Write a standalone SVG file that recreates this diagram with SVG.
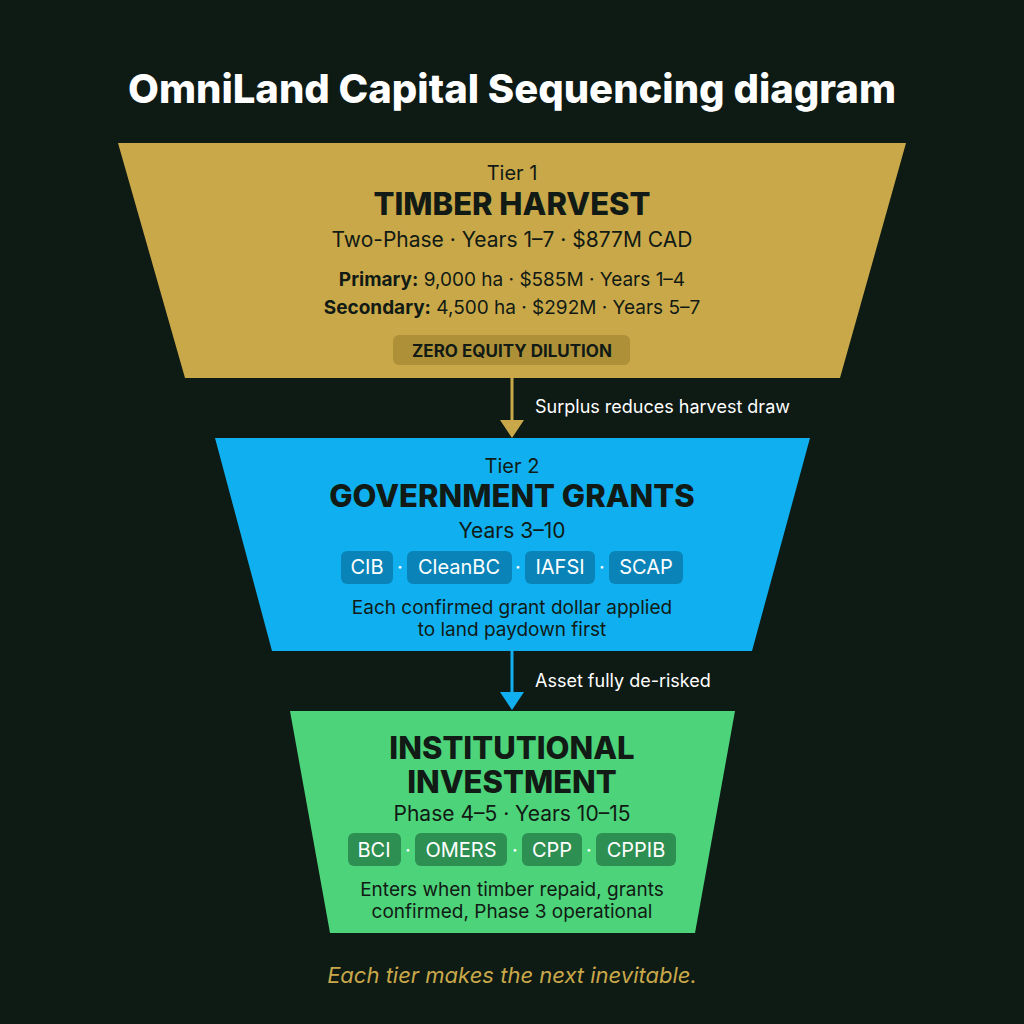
<svg xmlns="http://www.w3.org/2000/svg" width="1024" height="1024" viewBox="0 0 1024 1024">
<style>
text{font-family:Inter,"Liberation Sans",sans-serif;text-anchor:middle}
.dk{fill:#111a14}
.tier{font-size:20px}
.h{font-size:31px;font-weight:800}
.s{font-size:21px}
.b{font-size:19px}
.lbl{font-size:18px;fill:#fff;text-anchor:start}
.pw{font-size:20px;fill:#fff}
</style>
<rect width="1024" height="1024" fill="#0e1a14"/>
<text x="512" y="103" style="font-size:40px;font-weight:800;fill:#fff">OmniLand Capital Sequencing diagram</text>
<g id="tier1">
<polygon points="118,143 906,143 840,378 185,378" fill="#c9a84a"/>
<text x="512" y="180" class="dk tier">Tier 1</text>
<text x="512" y="215" class="dk h">TIMBER HARVEST</text>
<text x="512" y="247" class="dk s">Two-Phase · Years 1–7 · $877M CAD</text>
<text x="512" y="286" class="dk b"><tspan font-weight="700">Primary:</tspan> 9,000 ha · $585M · Years 1–4</text>
<text x="512" y="314" class="dk b"><tspan font-weight="700">Secondary:</tspan> 4,500 ha · $292M · Years 5–7</text>
<rect x="393" y="335" width="237" height="30" rx="6" fill="#a88a35" opacity="0.8"/>
<text x="512" y="357" class="dk" style="font-size:17px;font-weight:700">ZERO EQUITY DILUTION</text>
</g>
<g id="tier2">
<polygon points="215,438 810,438 752,651 272,651" fill="#10b0f0"/>
<text x="512" y="473" class="dk tier">Tier 2</text>
<text x="512" y="507" class="dk h">GOVERNMENT GRANTS</text>
<text x="512" y="538" class="dk s">Years 3–10</text>
<g fill="#0a84b8">
<rect x="341" y="551" width="52" height="33" rx="6"/>
<rect x="407" y="551" width="105" height="33" rx="6"/>
<rect x="525" y="551" width="70" height="33" rx="6"/>
<rect x="609" y="551" width="74" height="33" rx="6"/>
</g>
<text x="367" y="574" class="pw">CIB</text>
<text x="400" y="574" class="dk pw">·</text>
<text x="459" y="574" class="pw">CleanBC</text>
<text x="518" y="574" class="dk pw">·</text>
<text x="560" y="574" class="pw">IAFSI</text>
<text x="602" y="574" class="dk pw">·</text>
<text x="646" y="574" class="pw">SCAP</text>
<text x="512" y="614" class="dk b">Each confirmed grant dollar applied</text>
<text x="512" y="636" class="dk b">to land paydown first</text>
</g>
<g id="tier3">
<polygon points="290,711 735,711 695,933 330,933" fill="#4dd37a"/>
<text x="512" y="759" class="dk h">INSTITUTIONAL</text>
<text x="512" y="793" class="dk h">INVESTMENT</text>
<text x="512" y="821" class="dk s">Phase 4–5 · Years 10–15</text>
<g fill="#2e8f52">
<rect x="348" y="833" width="53" height="33" rx="6"/>
<rect x="415" y="833" width="92" height="33" rx="6"/>
<rect x="522" y="833" width="60" height="33" rx="6"/>
<rect x="596" y="833" width="80" height="33" rx="6"/>
</g>
<text x="374" y="857" class="pw">BCI</text>
<text x="408" y="857" class="dk pw">·</text>
<text x="461" y="857" class="pw">OMERS</text>
<text x="515" y="857" class="dk pw">·</text>
<text x="552" y="857" class="pw">CPP</text>
<text x="589" y="857" class="dk pw">·</text>
<text x="636" y="857" class="pw">CPPIB</text>
<text x="512" y="896" class="dk b">Enters when timber repaid, grants</text>
<text x="512" y="918" class="dk b">confirmed, Phase 3 operational</text>
</g>
<g id="connectors">
<line x1="512" y1="378" x2="512" y2="424" stroke="#c9a84a" stroke-width="3"/>
<path d="M500,420 L524,420 L512,438 Z" fill="#c9a84a"/>
<line x1="512" y1="651" x2="512" y2="696" stroke="#10b0f0" stroke-width="3"/>
<path d="M500,692 L524,692 L512,710 Z" fill="#10b0f0"/>
<text x="535" y="413" class="lbl">Surplus reduces harvest draw</text>
<text x="535" y="687" class="lbl">Asset fully de-risked</text>
</g>
<text x="512" y="983" style="font-size:22px;font-style:italic;fill:#c9a84a">Each tier makes the next inevitable.</text>
</svg>
